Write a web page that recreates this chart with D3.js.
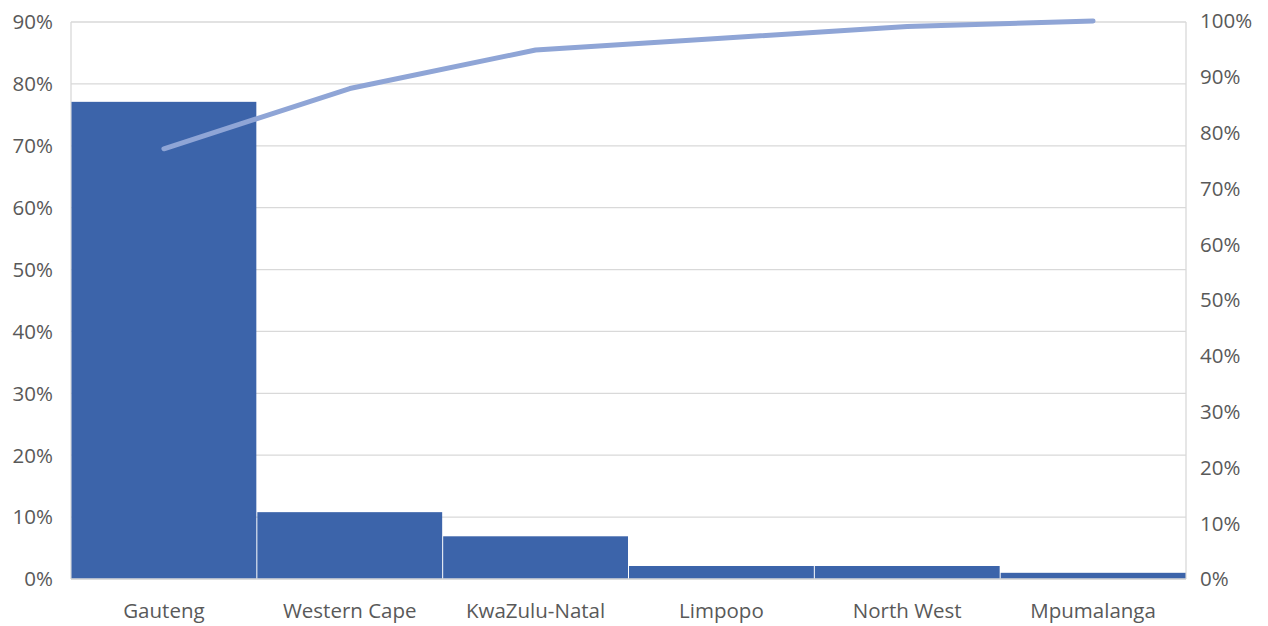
<!DOCTYPE html>
<html>
<head>
<meta charset="utf-8">
<script src="https://cdn.jsdelivr.net/npm/d3@7"></script>
<style>
  body { margin: 0; background: #fff; }
  text { font-family: "Open Sans", Lato, sans-serif; fill: #595959; }
</style>
</head>
<body>
<svg id="chart" width="1268" height="626"></svg>
<script>
// Share of total per province (left axis) and running cumulative share (right axis)
const provinces = ["Gauteng", "Western Cape", "KwaZulu-Natal", "Limpopo", "North West", "Mpumalanga"];
const shares = [0.771, 0.108, 0.069, 0.021, 0.021, 0.010];
const cumulative = [0.771, 0.879, 0.948, 0.969, 0.990, 1.000];
const leftTicks = [0, 0.1, 0.2, 0.3, 0.4, 0.5, 0.6, 0.7, 0.8, 0.9];
const rightTicks = [0, 0.1, 0.2, 0.3, 0.4, 0.5, 0.6, 0.7, 0.8, 0.9, 1.0];

const svg = d3.select("#chart");
const m = { left: 71, right: 1186, top: 22, bottom: 579 };
const fontSize = 20.5;

const x = d3.scaleBand().domain(provinces).range([m.left, m.right]).padding(0);
const yL = d3.scaleLinear().domain([0, 0.9]).range([m.bottom, m.top]);
const yR = d3.scaleLinear().domain([0, 1.0]).range([m.bottom, 21]);
const pct = d3.format(".0%");

// Horizontal gridlines follow the left axis
svg.append("g").selectAll("line").data(leftTicks).join("line")
  .attr("x1", m.left).attr("x2", m.right)
  .attr("y1", d => yL(d)).attr("y2", d => yL(d))
  .attr("stroke", "#d9d9d9").attr("stroke-width", 1.3);

// Frame lines: left and right
svg.append("line").attr("x1", m.left).attr("x2", m.left).attr("y1", m.top).attr("y2", m.bottom)
  .attr("stroke", "#d9d9d9").attr("stroke-width", 1.3);
svg.append("line").attr("x1", m.right).attr("x2", m.right).attr("y1", m.top).attr("y2", m.bottom)
  .attr("stroke", "#d9d9d9").attr("stroke-width", 1.3);

// Bars
svg.append("g").selectAll("rect").data(provinces).join("rect")
  .attr("x", d => x(d) + 0.5)
  .attr("width", x.bandwidth() - 1)
  .attr("y", (d, i) => yL(shares[i]))
  .attr("height", (d, i) => yL(0) - yL(shares[i]))
  .attr("fill", "#3c64aa");

// Baseline
svg.append("line").attr("x1", m.left).attr("x2", m.right).attr("y1", m.bottom).attr("y2", m.bottom)
  .attr("stroke", "#d9d9d9").attr("stroke-width", 1.3);

// Cumulative line
const line = d3.line()
  .x((d, i) => x(provinces[i]) + x.bandwidth() / 2)
  .y(d => yR(d));
svg.append("path").datum(cumulative)
  .attr("d", line)
  .attr("fill", "none")
  .attr("stroke", "#8fa5d6")
  .attr("stroke-width", 5)
  .attr("stroke-linecap", "round")
  .attr("stroke-linejoin", "round");

// Left axis labels
svg.append("g").selectAll("text").data(leftTicks).join("text")
  .attr("x", 53).attr("y", d => yL(d)).attr("dy", "0.36em")
  .attr("text-anchor", "end").attr("font-size", fontSize)
  .text(pct);

// Right axis labels
svg.append("g").selectAll("text").data(rightTicks).join("text")
  .attr("x", 1200).attr("y", d => yR(d)).attr("dy", "0.36em")
  .attr("text-anchor", "start").attr("font-size", fontSize)
  .text(pct);

// Category labels
svg.append("g").selectAll("text").data(provinces).join("text")
  .attr("x", d => x(d) + x.bandwidth() / 2).attr("y", 611).attr("dy", "0.36em")
  .attr("text-anchor", "middle").attr("font-size", fontSize)
  .text(d => d);
</script>
</body>
</html>
